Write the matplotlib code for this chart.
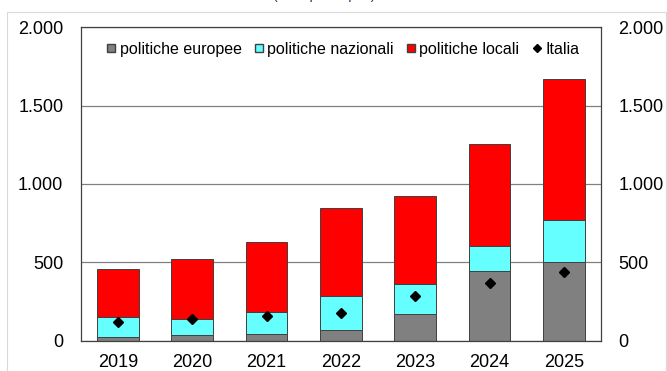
import matplotlib
matplotlib.use("Agg")
import matplotlib.pyplot as plt
from matplotlib.lines import Line2D
from matplotlib.patches import Rectangle
from matplotlib.ticker import FuncFormatter

# Values per year (euro), stacked by policy level, plus the national mean.
anni = ["2019", "2020", "2021", "2022", "2023", "2024", "2025"]
europee = [24, 37, 40, 67, 167, 446, 504]
nazionali = [128, 100, 144, 220, 194, 160, 266]
locali = [305, 382, 446, 562, 563, 648, 902]
italia = [118, 135, 159, 174, 286, 366, 440]

GREY = "#808080"
CYAN = "#66FFFF"
RED = "#FF0000"
EDGE = "#404040"

plt.rcParams["font.family"] = ["Liberation Sans", "DejaVu Sans"]

fig = plt.figure(figsize=(6.67, 3.71), dpi=100)
fig.patch.set_facecolor("white")

# light outer frame of the chart area
fig.patches.append(Rectangle((7 / 667, -0.1), 659 / 667, 1.1 - 12 / 371,
                             transform=fig.transFigure, fill=False,
                             edgecolor="#D9D9D9", lw=0.8))
# subtitle sits mostly above the top edge, as in the exported chart
fig.text(324 / 667, 1.003, "(euro pro capite)", ha="center", va="baseline",
         fontsize=10, color="#1F3F6F")

ax = fig.add_axes([80.7 / 667, 30.5 / 371, 520.3 / 667, 313.3 / 371])

x = range(len(anni))
w = 0.56
bottom2 = [a + b for a, b in zip(europee, nazionali)]
ax.bar(x, europee, w, color=GREY, edgecolor=EDGE, lw=0.7, zorder=2)
ax.bar(x, nazionali, w, bottom=europee, color=CYAN, edgecolor=EDGE, lw=0.7,
       zorder=2)
ax.bar(x, locali, w, bottom=bottom2, color=RED, edgecolor=EDGE, lw=0.7,
       zorder=2)
ax.plot(x, italia, linestyle="", marker="D", ms=5.5, color="black", zorder=3)

ax.set_xlim(-0.5, len(anni) - 0.5)
ax.set_ylim(0, 2000)
ax.set_yticks([0, 500, 1000, 1500, 2000])
ax.yaxis.set_major_formatter(FuncFormatter(lambda v, p: f"{v:,.0f}".replace(",", ".")))
ax.set_xticks(list(x))
ax.set_xticklabels(anni)
ax.grid(axis="y", color="#808080", lw=0.9, zorder=1)
for s in ax.spines.values():
    s.set_color(EDGE)
    s.set_linewidth(0.9)
ax.tick_params(axis="y", length=0, labelsize=13, pad=12.5,
               right=True, labelright=True)
ax.tick_params(axis="x", length=0, labelsize=13, pad=10)

handles = [
    Line2D([0], [0], marker="s", linestyle="", markerfacecolor=GREY,
           markeredgecolor=EDGE, markersize=5.5, label="politiche europee"),
    Line2D([0], [0], marker="s", linestyle="", markerfacecolor=CYAN,
           markeredgecolor=EDGE, markersize=5.5, label="politiche nazionali"),
    Line2D([0], [0], marker="s", linestyle="", markerfacecolor=RED,
           markeredgecolor=EDGE, markersize=5.5, label="politiche locali"),
    Line2D([0], [0], marker="D", linestyle="", color="black",
           markersize=4, label="Italia"),
]
ax.legend(handles=handles, loc="upper center", ncol=4, frameon=False,
          fontsize=11.5, handlelength=0.45, handletextpad=0.3,
          columnspacing=0.85, bbox_to_anchor=(0.505, 1.0),
          borderaxespad=0.5)

fig.savefig("out.png", dpi=100, facecolor="white")
